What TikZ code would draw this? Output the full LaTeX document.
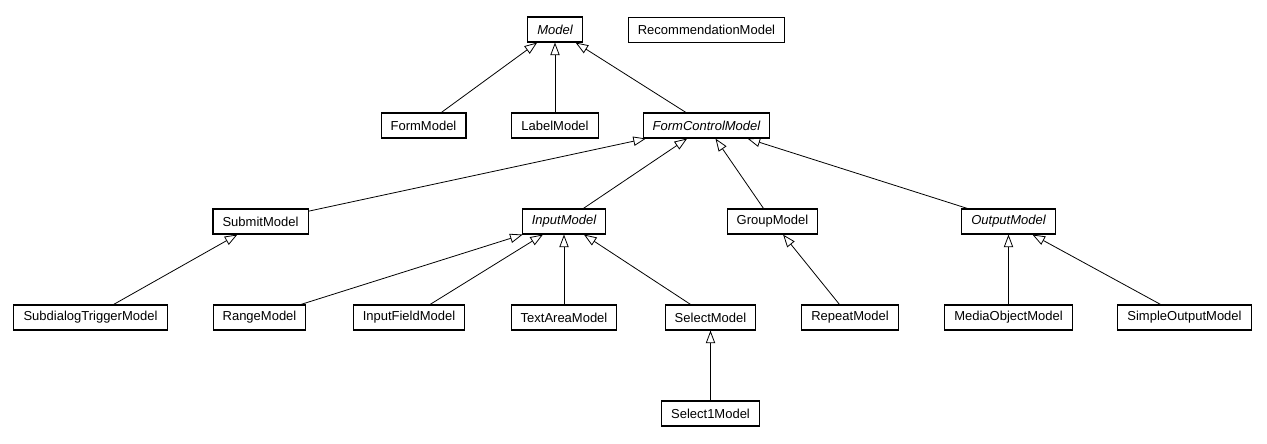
\documentclass[tikz,border=0pt]{standalone}
\usepackage{fontspec}
\setmainfont{Liberation Sans}
\usepackage{tikz}
\usetikzlibrary{arrows.meta}

\begin{document}
\begin{tikzpicture}[
  x=0.75pt,y=-0.75pt,
  cls/.style={draw=black,line width=0.8pt,fill=white,minimum height=18.75pt,inner xsep=7.2pt,inner ysep=0pt,font=\fontsize{9.75}{11}\selectfont},
  abs/.style={cls,font=\fontsize{9.75}{11}\selectfont\itshape},
  arr/.style={-{Triangle[open,length=9.5pt,width=7pt]},line width=0.6pt,draw=black}
]
\useasboundingbox (0,0) rectangle (1267,443);
% top row
\node[abs] (model) at (555,29.5) {Model};
\node[cls] (rec) at (706.5,30) {RecommendationModel};
\node[cls] (form) at (423.5,125.5) {FormModel};
\node[cls] (label) at (555,125.5) {LabelModel};
\node[abs] (fcm) at (706.5,125.5) {FormControlModel};
% form controls
\node[cls] (submit) at (260.5,221.5) {SubmitModel};
\node[abs] (input) at (564,221.5) {InputModel};
\node[cls] (group) at (772.5,221.5) {GroupModel};
\node[abs] (output) at (1008.5,221.5) {OutputModel};
% leaves
\node[cls] (subdlg) at (90.5,317.5) {SubdialogTriggerModel};
\node[cls] (range) at (259.5,317.5) {RangeModel};
\node[cls] (field) at (409,317.5) {InputFieldModel};
\node[cls] (area) at (564,317.5) {TextAreaModel};
\node[cls] (select) at (710.5,317.5) {SelectModel};
\node[cls] (repeat) at (850,317.5) {RepeatModel};
\node[cls] (media) at (1008.5,317.5) {MediaObjectModel};
\node[cls] (simple) at (1184.5,317.5) {SimpleOutputModel};
\node[cls] (select1) at (710.5,413.5) {Select1Model};
% generalizations
\draw[arr] (form)--(model);
\draw[arr] (label)--(model);
\draw[arr] (fcm)--(model);
\draw[arr] (submit)--(fcm);
\draw[arr] (input)--(fcm);
\draw[arr] (group)--(fcm);
\draw[arr] (output)--(fcm);
\draw[arr] (subdlg)--(submit);
\draw[arr] (range)--(input);
\draw[arr] (field)--(input);
\draw[arr] (area)--(input);
\draw[arr] (select)--(input);
\draw[arr] (repeat)--(group);
\draw[arr] (media)--(output);
\draw[arr] (simple)--(output);
\draw[arr] (select1)--(select);
\end{tikzpicture}
\end{document}
